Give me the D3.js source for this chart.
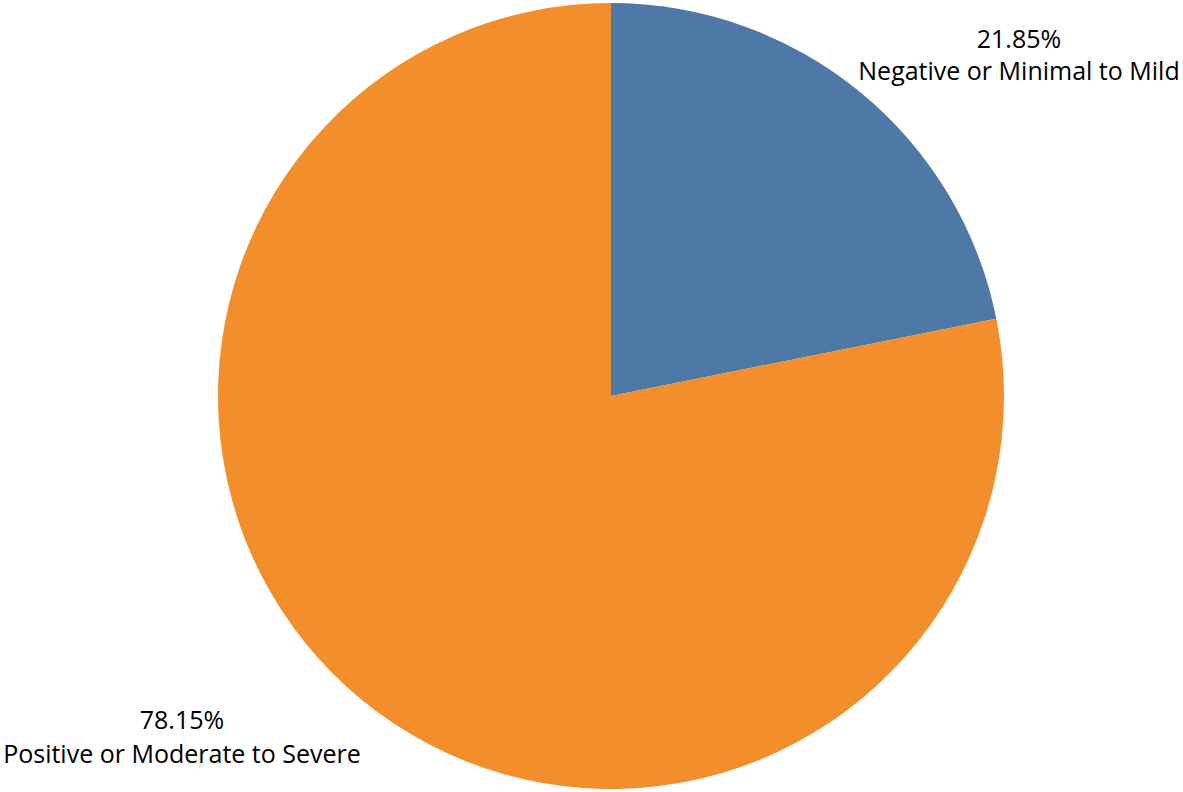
<!DOCTYPE html>
<html>
<head>
<meta charset="utf-8">
<script src="https://cdn.jsdelivr.net/npm/d3@7"></script>
<style>
  body { margin: 0; background: #fff; }
  text { font-family: "Open Sans", "Noto Sans", sans-serif; fill: #000; }
</style>
</head>
<body>
<div id="chart"></div>
<script>
// data
var categories = ["Negative or Minimal to Mild", "Positive or Moderate to Severe"];
var shares = [21.85, 78.15];
var colors = ["#4e79a7", "#f28e2b"];

var width = 1183, height = 792;
var cx = 611, cy = 396, radius = 393;

var svg = d3.select("#chart")
    .append("svg")
    .attr("width", width)
    .attr("height", height);

var data = categories.map(function (c, i) { return { name: c, value: shares[i], color: colors[i] }; });

var pie = d3.pie()
    .sort(null)
    .value(function (d) { return d.value; });

var arc = d3.arc()
    .innerRadius(0)
    .outerRadius(radius);

var g = svg.append("g")
    .attr("transform", "translate(" + cx + "," + cy + ")");

g.selectAll("path")
    .data(pie(data))
    .enter()
    .append("path")
    .attr("d", arc)
    .style("fill", function (d) { return d.data.color; });

// labels sit outside the pie, placed like the original
var labelPos = [
    { x: 1019, y1: 48, y2: 80 },
    { x: 182, y1: 729, y2: 763 }
];

var lab = svg.selectAll(".lab")
    .data(data)
    .enter()
    .append("g")
    .attr("class", "lab");

lab.append("text")
    .attr("x", function (d, i) { return labelPos[i].x; })
    .attr("y", function (d, i) { return labelPos[i].y1; })
    .attr("text-anchor", "middle")
    .style("font-size", "25px")
    .text(function (d) { return d.value.toFixed(2) + "%"; });

lab.append("text")
    .attr("x", function (d, i) { return labelPos[i].x; })
    .attr("y", function (d, i) { return labelPos[i].y2; })
    .attr("text-anchor", "middle")
    .style("font-size", "25px")
    .text(function (d) { return d.name; });
</script>
</body>
</html>
